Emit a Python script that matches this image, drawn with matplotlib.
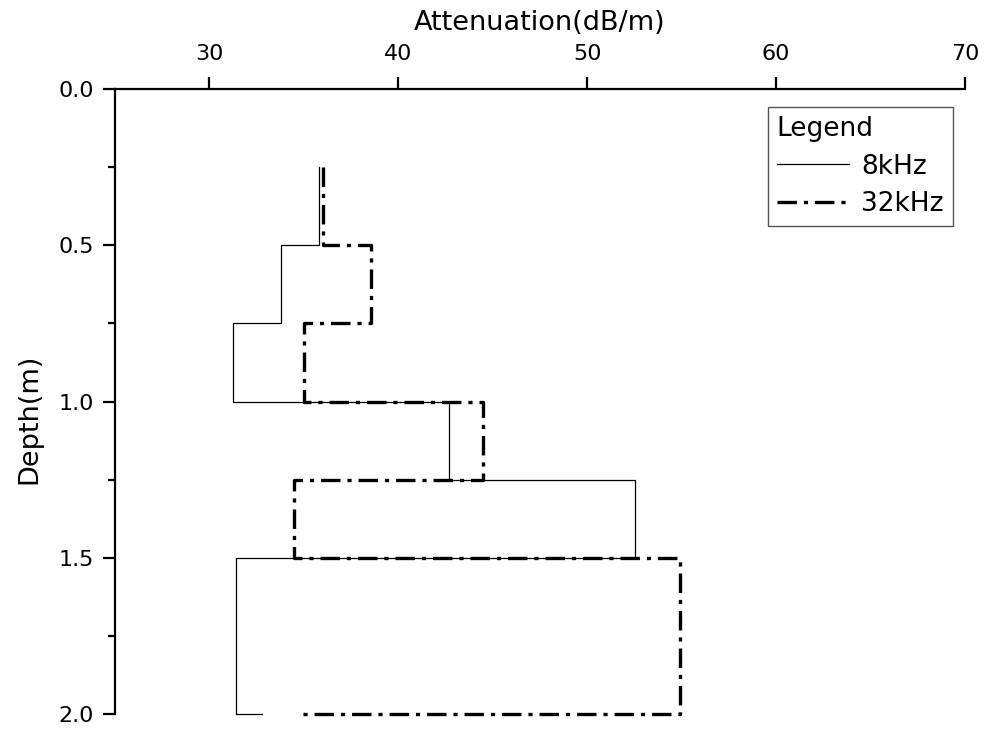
import matplotlib
matplotlib.use('Agg')
import matplotlib.pyplot as plt
from matplotlib.ticker import MultipleLocator

plt.rcParams['font.family'] = ['DejaVu Sans']
plt.rcParams['lines.scale_dashes'] = False

# Depth of each layer (m) and measured attenuation (dB/m)
depth = [0.25, 0.5, 0.75, 1.0, 1.25, 1.5, 2.0]
att_8khz = [35.8, 33.8, 31.25, 42.7, 52.55, 31.4, 32.8]
att_32khz = [36.0, 38.55, 35.0, 44.5, 34.5, 54.9, 34.9]

fig = plt.figure(figsize=(9.88, 7.29), dpi=100)
ax = fig.add_axes([115 / 988, 1 - 714 / 729, 850 / 988, 625 / 729])

ax.plot(att_8khz, depth, drawstyle='steps-pre', color='black', lw=0.9,
        label='8kHz', clip_on=False)
ax.plot(att_32khz, depth, drawstyle='steps-pre', color='black', lw=2.4,
        linestyle=(0, (14, 5, 3, 5)), dash_capstyle='butt',
        label='32kHz', clip_on=False)

ax.set_xlim(25, 70)
ax.set_ylim(2.0, 0.0)
ax.xaxis.tick_top()
ax.xaxis.set_label_position('top')
ax.set_xticks([30, 40, 50, 60, 70])
ax.yaxis.set_major_locator(MultipleLocator(0.5))
ax.yaxis.set_minor_locator(MultipleLocator(0.25))
ax.yaxis.set_major_formatter(plt.FormatStrFormatter('%.1f'))

for side in ['bottom', 'right']:
    ax.spines[side].set_visible(False)
for side in ['top', 'left']:
    ax.spines[side].set_linewidth(1.6)

ax.tick_params(axis='both', which='major', direction='out', length=9,
               width=1.6, labelsize=16)
ax.tick_params(axis='x', which='major', pad=9)
ax.tick_params(axis='y', which='major', pad=6)
ax.tick_params(axis='y', which='minor', direction='out', length=5, width=1.6)
ax.tick_params(axis='x', which='minor', top=False, bottom=False)

ax.set_xlabel('Attenuation(dB/m)', fontsize=19.5)
ax.xaxis.set_label_coords(0.5, 1.094)
ax.set_ylabel('Depth(m)', fontsize=19.5)
ax.yaxis.set_label_coords(-0.086, 0.472)

leg = ax.legend(title='Legend', loc='upper right',
                bbox_to_anchor=(838 / 850, (714 - 107) / 625),
                borderaxespad=0, fontsize=19, title_fontsize=19,
                fancybox=False, framealpha=1, edgecolor='#555555',
                handlelength=2.75, handletextpad=0.45, labelspacing=0.43,
                borderpad=0.35, alignment='left')
leg.get_frame().set_linewidth(1.0)

fig.savefig('out.png', dpi=100)
